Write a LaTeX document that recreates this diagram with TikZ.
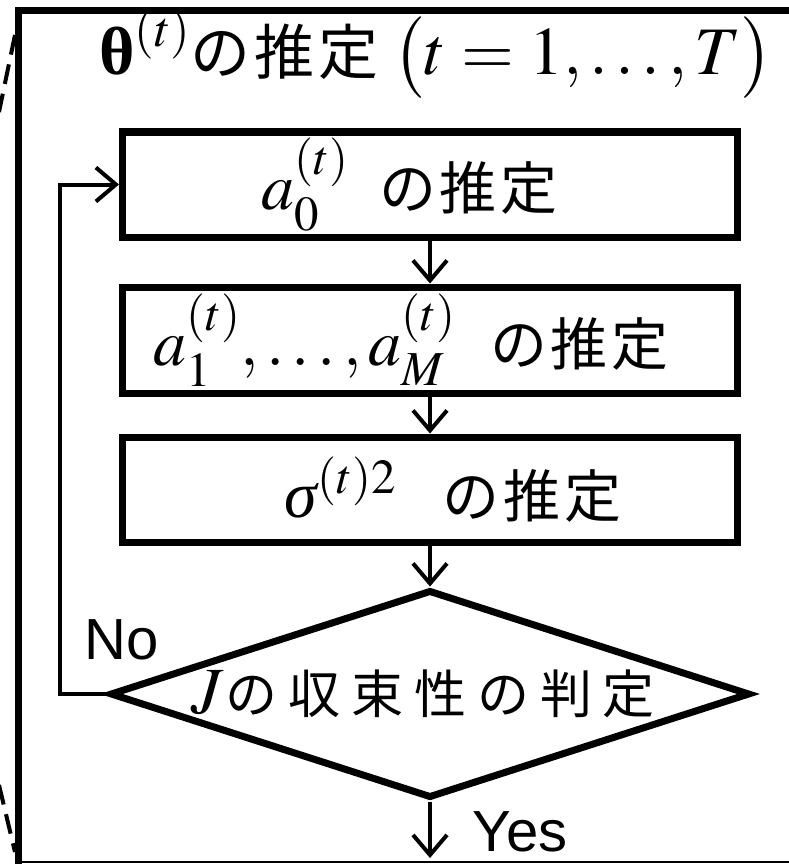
\documentclass[tikz,border=0pt]{standalone}
\usepackage{amsmath}
\usepackage{mathptmx}
\usepackage[no-math]{fontspec}
\setmainfont{Liberation Serif}
\newfontfamily\jpw[LetterSpace=7]{Noto Sans CJK JP}
\newfontfamily\jpd[LetterSpace=21]{Noto Sans CJK JP}
\newfontfamily\arial{Liberation Sans}
\newfontfamily\serifgr{Liberation Serif}
\newcommand{\mbig}{\fontsize{66}{70}\selectfont}
\newcommand{\mtitle}{\fontsize{68}{72}\selectfont}
\newcommand{\jtitle}{\fontsize{60}{64}\selectfont\jpw}
\usetikzlibrary{arrows.meta,shapes.geometric}
\begin{document}
\begin{tikzpicture}[x=1pt,y=-1pt,
  framel/.style={line width=7pt,line cap=rect},
  dashl/.style={line width=4pt,dash pattern=on 20pt off 10pt},
  stepbox/.style={draw,line width=7pt,minimum width=615pt,inner sep=0pt,
    font=\fontsize{57}{61}\selectfont},
  decide/.style={draw,diamond,line width=7pt,minimum width=640pt,minimum height=208pt,
    aspect=3.08,inner sep=0pt,font=\fontsize{52}{56}\selectfont},
  flow/.style={line width=4pt,-{Straight Barb[length=20pt,width=34pt,line width=4pt]}},
  lbl/.style={font=\arial\fontsize{58}{62}\selectfont,inner sep=0pt}]
\useasboundingbox (0,0) rectangle (789,864);
% frame
\draw[framel] (18,870) -- (18,11) -- (800,11);
\draw[line width=2pt] (15,862) -- (800,862);
\draw[dashl] (15,35) -- (-1,112);
\draw[dashl] (-1,785) -- (15,852);
% title
\node[inner sep=0pt,anchor=base,text height=44pt,text depth=14pt] (title) at (436,75)
  {{\mtitle$\text{\serifgr\bfseries θ}^{(t)}$}{\jtitle の推定}\kern14pt{\mtitle$\bigl(t=1,\ldots,T\bigr)$}};
% steps
\node[stepbox,minimum height=105pt] (b1) at (430,184.5)
  {\makebox[600pt][r]{{\mbig$a_0^{(t)}$}\kern30pt{\jpw の推定}\kern172pt}};
\node[stepbox,minimum height=106pt] (b2) at (430,340)
  {\makebox[600pt][r]{{\mbig$a_1^{(t)},\ldots,a_M^{(t)}$}\kern34pt{\jpw の推定}\kern61pt}};
\node[stepbox,minimum height=105pt] (b3) at (430,489.5)
  {\makebox[600pt][r]{{\mbig$\text{\serifgr\itshape σ}^{(t)2}$}\kern46pt{\jpw の推定}\kern109pt}};
\node[decide] (dia) at (430,694)
  {\makebox[200pt][c]{{\mbig$J$}\kern2pt{\jpd の収束性の判定}\kern14pt}};
\coordinate (out) at (430,858);
% connectors
\draw[flow] (b1) -- (b2);
\draw[flow] (b2) -- (b3);
\draw[flow] (b3) -- (dia);
\draw[flow] (dia.south) -- (out);
\draw[flow] (dia.west) -- ++(-47,0) |- (b1.west);
% labels
\node[lbl] (no) at (122,640) {No};
\node[lbl] (yes) at (520,832) {Yes};
\end{tikzpicture}
\end{document}
